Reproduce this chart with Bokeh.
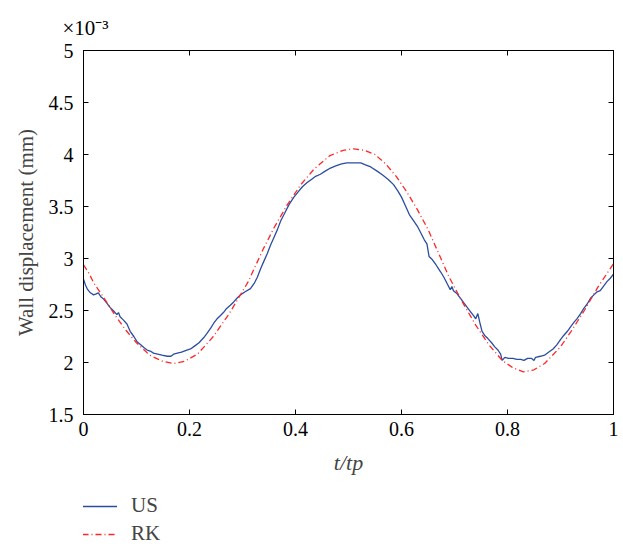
from bokeh.plotting import figure
from bokeh.layouts import column
from bokeh.models import (LinearAxis, FixedTicker, Legend, LegendItem, Range1d)
from bokeh.embed import file_html
from bokeh.resources import INLINE

# ---- data (wall displacement in units of 1e-3 mm) ----
rk_t = [0.000, 0.010, 0.020, 0.040, 0.060, 0.080, 0.100, 0.125, 0.150, 0.170,
        0.190, 0.215, 0.245, 0.275, 0.310, 0.340, 0.360, 0.385, 0.410, 0.435,
        0.465, 0.490, 0.510, 0.530, 0.550, 0.570, 0.590, 0.610, 0.630, 0.650,
        0.670, 0.690, 0.715, 0.740, 0.765, 0.790, 0.810, 0.830, 0.850, 0.870,
        0.900, 0.920, 0.945, 0.970, 1.000]
rk_y = [2.94, 2.86, 2.76, 2.61, 2.45, 2.31, 2.19, 2.07, 2.01, 1.99,
        2.01, 2.08, 2.25, 2.47, 2.77, 3.10, 3.30, 3.52, 3.71, 3.86,
        3.99, 4.04, 4.055, 4.04, 4.00, 3.91, 3.79, 3.64, 3.47, 3.28,
        3.05, 2.82, 2.58, 2.36, 2.17, 2.02, 1.95, 1.91, 1.93, 1.99,
        2.15, 2.30, 2.50, 2.72, 2.95]

us_t = [0.000, 0.004, 0.008, 0.013, 0.019, 0.024, 0.028, 0.033, 0.038, 0.044,
        0.050, 0.056, 0.063, 0.066, 0.069, 0.075, 0.082, 0.088, 0.095, 0.101,
        0.108, 0.115, 0.120, 0.126, 0.132, 0.140, 0.148, 0.158, 0.165, 0.170,
        0.177, 0.185, 0.195, 0.202, 0.210, 0.218, 0.227, 0.233, 0.240, 0.246,
        0.252, 0.258, 0.264, 0.270, 0.277, 0.283, 0.290, 0.296, 0.305, 0.315,
        0.322, 0.328, 0.334, 0.340, 0.347, 0.353, 0.360, 0.366, 0.372, 0.380,
        0.388, 0.397, 0.405, 0.413, 0.422, 0.430, 0.438, 0.447, 0.456, 0.466,
        0.476, 0.487, 0.497, 0.510, 0.523, 0.532, 0.542, 0.554, 0.565, 0.575,
        0.585, 0.593, 0.600, 0.608, 0.615, 0.622, 0.630, 0.637, 0.643, 0.648,
        0.652, 0.658, 0.665, 0.670, 0.674, 0.680, 0.686, 0.692, 0.695, 0.698,
        0.705, 0.711, 0.718, 0.724, 0.730, 0.736, 0.740, 0.744, 0.748, 0.752,
        0.757, 0.763, 0.770, 0.776, 0.782, 0.787, 0.790, 0.795, 0.802, 0.810,
        0.818, 0.825, 0.831, 0.838, 0.845, 0.850, 0.853, 0.862, 0.870, 0.878,
        0.886, 0.893, 0.900, 0.906, 0.913, 0.920, 0.926, 0.931, 0.938, 0.944,
        0.950, 0.957, 0.963, 0.969, 0.975, 0.982, 0.988, 0.994, 1.000]
us_y = [2.80, 2.74, 2.70, 2.67, 2.65, 2.66, 2.67, 2.63, 2.61, 2.57,
        2.53, 2.50, 2.46, 2.48, 2.44, 2.41, 2.37, 2.30, 2.25, 2.20,
        2.17, 2.14, 2.12, 2.11, 2.09, 2.08, 2.07, 2.06, 2.06, 2.08,
        2.09, 2.10, 2.12, 2.13, 2.16, 2.19, 2.24, 2.28, 2.33, 2.38,
        2.42, 2.45, 2.48, 2.52, 2.55, 2.58, 2.62, 2.65, 2.68, 2.71,
        2.76, 2.82, 2.90, 2.97, 3.05, 3.13, 3.21, 3.28, 3.36, 3.44,
        3.52, 3.59, 3.64, 3.69, 3.73, 3.76, 3.79, 3.81, 3.84, 3.87,
        3.89, 3.91, 3.92, 3.92, 3.92, 3.90, 3.88, 3.84, 3.80, 3.76,
        3.71, 3.65, 3.59, 3.50, 3.42, 3.37, 3.31, 3.24, 3.18, 3.14,
        3.02, 2.99, 2.94, 2.90, 2.87, 2.82, 2.76, 2.70, 2.73, 2.69,
        2.66, 2.62, 2.57, 2.53, 2.49, 2.45, 2.42, 2.47, 2.38, 2.30,
        2.26, 2.23, 2.19, 2.15, 2.12, 2.08, 2.02, 2.05, 2.04, 2.04,
        2.03, 2.03, 2.02, 2.04, 2.04, 2.02, 2.05, 2.06, 2.07, 2.10,
        2.13, 2.17, 2.22, 2.26, 2.30, 2.35, 2.39, 2.42, 2.47, 2.52,
        2.56, 2.62, 2.65, 2.68, 2.69, 2.74, 2.78, 2.81, 2.85]

x_ticks = [0, 0.2, 0.4, 0.6, 0.8, 1.0]
x_tick_labels = ["0", "0.2", "0.4", "0.6", "0.8", "1"]
y_ticks = [1.5, 2, 2.5, 3, 3.5, 4, 4.5, 5]
y_tick_labels = ["1.5", "2", "2.5", "3", "3.5", "4", "4.5", "5"]

FONT = "Liberation Serif"
BLUE = "#2b4ca0"
RED = "#ff2626"
US_STYLE = dict(line_color=BLUE, line_width=1.3)
RK_STYLE = dict(line_color=RED, line_width=1.3, line_dash="6 3 1 3")

p = figure(width=623, height=490, output_backend="svg", toolbar_location=None,
           x_range=Range1d(0, 1), y_range=Range1d(1.5, 5),
           min_border_left=83, min_border_right=10,
           min_border_top=50, min_border_bottom=76)
p.background_fill_color = "white"
p.border_fill_color = "white"
p.outline_line_color = "black"
p.outline_line_width = 1
p.grid.visible = False

p.line(us_t, us_y, **US_STYLE)
p.line(rk_t, rk_y, **RK_STYLE)


def style_axis(ax, ticks, labels, show_labels=True):
    ax.ticker = FixedTicker(ticks=ticks)
    ax.major_label_overrides = {t: l for t, l in zip(ticks, labels)}
    ax.major_tick_in = 5
    ax.major_tick_out = 0
    ax.minor_tick_line_color = None
    ax.axis_line_color = "black"
    ax.major_tick_line_color = "black"
    ax.major_label_text_font = FONT
    ax.major_label_text_font_size = "20px"
    ax.major_label_text_color = "black"
    if not show_labels:
        ax.major_label_text_font_size = "0px"
        ax.major_label_standoff = 0


xa = p.xaxis[0]
style_axis(xa, x_ticks, x_tick_labels)
xa.major_label_standoff = 7
xa.axis_label = "t/tp"
xa.axis_label_text_font = FONT
xa.axis_label_text_font_style = "italic"
xa.axis_label_text_font_size = "22px"
xa.axis_label_standoff = 11

ya = p.yaxis[0]
style_axis(ya, y_ticks, y_tick_labels)
ya.major_label_standoff = 10
ya.axis_label = "Wall displacement (mm)"
ya.axis_label_text_font = FONT
ya.axis_label_text_font_style = "normal"
ya.axis_label_text_font_size = "21px"
ya.axis_label_standoff = 8

top = LinearAxis()
style_axis(top, x_ticks, ["" for _ in x_ticks], show_labels=False)
p.add_layout(top, "above")
right = LinearAxis()
style_axis(right, y_ticks, ["" for _ in y_ticks], show_labels=False)
p.add_layout(right, "right")

# exponent note above the y axis
p.title.text = "×10⁻³"
p.title.align = "left"
p.title.offset = -21
p.title.standoff = 21
p.title.text_font = FONT
p.title.text_font_style = "normal"
p.title.text_font_size = "21px"
p.title.text_color = "black"

# ---- legend strip below the chart ----
lg = figure(width=623, height=56, output_backend="svg", toolbar_location=None,
            x_range=Range1d(0, 1), y_range=Range1d(100, 101),
            x_axis_type=None, y_axis_type=None,
            min_border_left=0, min_border_right=0,
            min_border_top=0, min_border_bottom=0)
lg.outline_line_color = None
lg.background_fill_color = "white"
lg.border_fill_color = "white"
lg.grid.visible = False
us_l = lg.line(us_t, us_y, **US_STYLE)
rk_l = lg.line(rk_t, rk_y, **RK_STYLE)

legend = Legend(items=[LegendItem(label="US", renderers=[us_l]),
                       LegendItem(label="RK", renderers=[rk_l])],
                location=(-1, 0), padding=0, margin=0, spacing=3,
                glyph_width=35, glyph_height=20, label_height=20,
                label_standoff=14, label_text_font=FONT,
                label_text_font_size="21px", border_line_alpha=0,
                background_fill_alpha=0, orientation="vertical")
lg.add_layout(legend, "center")

layout = column(p, lg, spacing=0)
open("out.html", "w").write(file_html(layout, INLINE))
